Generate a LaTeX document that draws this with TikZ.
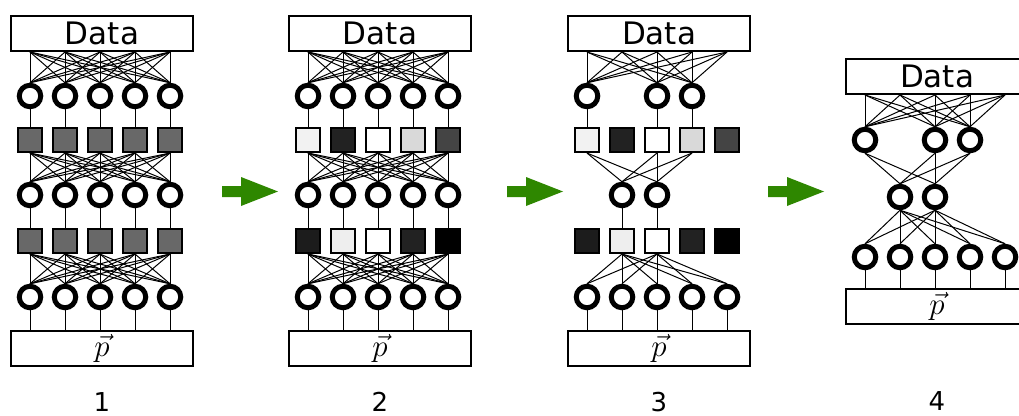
\RequirePackage{fix-cm}
\documentclass[tikz,border=0pt]{standalone}
\usepackage{fontspec}
\setmainfont{DejaVu Sans}
\usetikzlibrary{backgrounds}
\definecolor{arrowgreen}{RGB}{46,135,0}
\definecolor{gmid}{RGB}{104,104,104}
\definecolor{ga0}{RGB}{242,242,242}
\definecolor{ga1}{RGB}{34,34,34}
\definecolor{ga2}{RGB}{255,255,255}
\definecolor{ga3}{RGB}{217,217,217}
\definecolor{ga4}{RGB}{68,68,68}
\definecolor{gb0}{RGB}{28,28,28}
\definecolor{gb1}{RGB}{238,238,238}
\definecolor{gb2}{RGB}{255,255,255}
\definecolor{gb3}{RGB}{34,34,34}
\definecolor{gb4}{RGB}{0,0,0}
\begin{document}
\begin{tikzpicture}[x=1pt,y=-1pt,
  neuron/.style={circle,draw=black,line width=5pt,fill=white,minimum size=21.5pt,inner sep=0pt},
  gate/.style={rectangle,draw=black,line width=1.6pt,minimum size=24.5pt,inner sep=0pt},
  layerbox/.style={rectangle,draw=black,line width=2pt,fill=white,minimum width=182pt,minimum height=35pt,inner sep=0pt},
  boxtext/.style={font=\fontsize{31}{31}\selectfont},
  link/.style={line width=1pt,black},
  flow/.style={fill=arrowgreen},
  steplabel/.style={font=\fontsize{26}{26}\selectfont,inner sep=0pt}]
\path[use as bounding box,clip] (0,0) rectangle (1019,415);

% ---------- Panel 1 ----------
\node[layerbox,boxtext] (a-data) at (102,33.5) {Data};
\node[layerbox,boxtext] (a-p) at (102,348) {$\vec{p}$};
\foreach \i in {0,...,4} {
  \node[neuron] (a-c1-\i) at (30+35*\i,96) {};
  \node[gate,fill=gmid] (a-s1-\i) at (30+35*\i,140) {};
  \node[neuron] (a-c2-\i) at (30+35*\i,195) {};
  \node[gate,fill=gmid] (a-s2-\i) at (30+35*\i,241) {};
  \node[neuron] (a-c3-\i) at (30+35*\i,297) {};
}
\begin{scope}[on background layer]
\foreach \i in {0,...,4} {
  \foreach \j in {0,...,4} {
    \draw[link] (a-c1-\i |- a-data.south) -- (a-c1-\j.north);
    \draw[link] (a-s1-\i.south) -- (a-c2-\j.north);
    \draw[link] (a-s2-\i.south) -- (a-c3-\j.north);
  }
  \draw[link] (a-c1-\i.south) -- (a-s1-\i.north);
  \draw[link] (a-c2-\i.south) -- (a-s2-\i.north);
  \draw[link] (a-c3-\i.south) -- (a-c3-\i |- a-p.north);
}
\end{scope}
\node[steplabel] (a-lab) at (102,402) {1};

% ---------- Panel 2 ----------
\node[layerbox,boxtext] (b-data) at (380,33.5) {Data};
\node[layerbox,boxtext] (b-p) at (380,348) {$\vec{p}$};
\foreach \i/\fa/\fb in {0/ga0/gb0,1/ga1/gb1,2/ga2/gb2,3/ga3/gb3,4/ga4/gb4} {
  \node[neuron] (b-c1-\i) at (308+35*\i,96) {};
  \node[gate,fill=\fa] (b-s1-\i) at (308+35*\i,140) {};
  \node[neuron] (b-c2-\i) at (308+35*\i,195) {};
  \node[gate,fill=\fb] (b-s2-\i) at (308+35*\i,241) {};
  \node[neuron] (b-c3-\i) at (308+35*\i,297) {};
}
\begin{scope}[on background layer]
\foreach \i in {0,...,4} {
  \foreach \j in {0,...,4} {
    \draw[link] (b-c1-\i |- b-data.south) -- (b-c1-\j.north);
    \draw[link] (b-s1-\i.south) -- (b-c2-\j.north);
    \draw[link] (b-s2-\i.south) -- (b-c3-\j.north);
  }
  \draw[link] (b-c1-\i.south) -- (b-s1-\i.north);
  \draw[link] (b-c2-\i.south) -- (b-s2-\i.north);
  \draw[link] (b-c3-\i.south) -- (b-c3-\i |- b-p.north);
}
\end{scope}
\node[steplabel] (b-lab) at (380,402) {2};

% ---------- Panel 3 ----------
\node[layerbox,boxtext] (c-data) at (659,33.5) {Data};
\node[layerbox,boxtext] (c-p) at (659,348) {$\vec{p}$};
\foreach \i/\fa/\fb in {0/ga0/gb0,1/ga1/gb1,2/ga2/gb2,3/ga3/gb3,4/ga4/gb4} {
  \node[gate,fill=\fa] (c-s1-\i) at (587+35*\i,140) {};
  \node[gate,fill=\fb] (c-s2-\i) at (587+35*\i,241) {};
  \node[neuron] (c-c3-\i) at (587+35*\i,297) {};
}
\foreach \i in {0,2,3} \node[neuron] (c-c1-\i) at (587+35*\i,96) {};
\foreach \i in {1,2} \node[neuron] (c-c2-\i) at (587+35*\i,195) {};
\begin{scope}[on background layer]
\foreach \j in {0,2,3} {
  \foreach \i in {0,...,4} \draw[link] (c-s1-\i |- c-data.south) -- (c-c1-\j.north);
  \draw[link] (c-c1-\j.south) -- (c-s1-\j.north);
  \foreach \k in {1,2} \draw[link] (c-s1-\j.south) -- (c-c2-\k.north);
}
\foreach \k in {1,2} {
  \draw[link] (c-c2-\k.south) -- (c-s2-\k.north);
  \foreach \m in {0,...,4} \draw[link] (c-s2-\k.south) -- (c-c3-\m.north);
}
\foreach \m in {0,...,4} \draw[link] (c-c3-\m.south) -- (c-c3-\m |- c-p.north);
\end{scope}
\node[steplabel] (c-lab) at (659,402) {3};

% ---------- Panel 4 ----------
\node[layerbox,boxtext] (d-data) at (937,76.5) {Data};
\node[layerbox,boxtext] (d-p) at (937,306) {$\vec{p}$};
\foreach \i in {0,...,4} \node[neuron] (d-c3-\i) at (865+35*\i,257) {};
\foreach \i in {0,2,3} \node[neuron] (d-c1-\i) at (865+35*\i,140) {};
\foreach \i in {1,2} \node[neuron] (d-c2-\i) at (865+35*\i,197) {};
\begin{scope}[on background layer]
\foreach \j in {0,2,3} {
  \foreach \i in {0,...,4} \draw[link] (d-c3-\i |- d-data.south) -- (d-c1-\j.north);
  \foreach \k in {1,2} \draw[link] (d-c1-\j.south) -- (d-c2-\k.north);
}
\foreach \k in {1,2} {
  \foreach \m in {0,...,4} \draw[link] (d-c2-\k.south) -- (d-c3-\m.north);
}
\foreach \m in {0,...,4} \draw[link] (d-c3-\m.south) -- (d-c3-\m |- d-p.north);
\end{scope}
\node[steplabel] (d-lab) at (937,401) {4};

% ---------- Arrows ----------
\foreach \x in {222,507,768} {
  \fill[flow] (\x,186) -- (\x+19,186) -- (\x+19,177) -- (\x+56,191.5) -- (\x+19,206) -- (\x+19,197) -- (\x,197) -- cycle;
}
\end{tikzpicture}
\end{document}
